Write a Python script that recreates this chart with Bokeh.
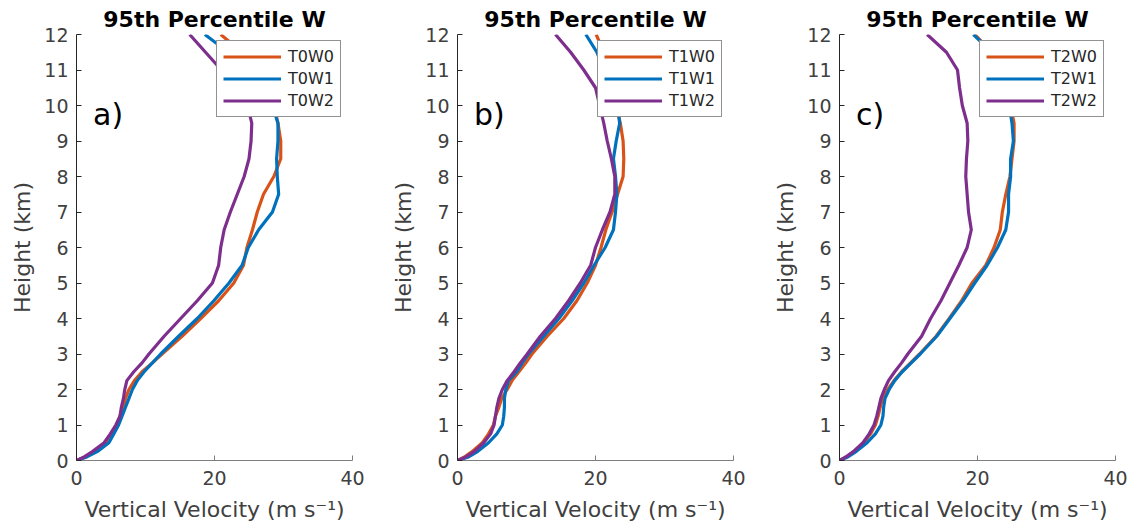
from bokeh.plotting import figure
from bokeh.layouts import row
from bokeh.models import Range1d, FixedTicker, Legend, LegendItem, Label
from bokeh.embed import file_html
from bokeh.resources import INLINE

# Heights (km)
height_km = [0, 0.1, 0.25, 0.5, 0.75, 1, 1.25, 1.5, 1.75, 2, 2.25, 2.5, 2.75, 3, 3.5,
             4, 4.5, 5, 5.5, 6, 6.5, 7, 7.5, 8, 8.5, 9, 9.5, 10, 10.5, 11, 11.5, 12]

# Panel a (95th percentile vertical velocity, m/s)
T0W0 = [0, 1.3, 2.5, 4.2, 5.0, 5.8, 6.3, 6.8, 7.1, 7.6, 8.4, 9.5, 11.0, 12.4, 15.3,
        18.0, 20.6, 22.8, 24.2, 24.7, 25.5, 26.2, 27.1, 28.6, 29.6, 29.6, 29.2, 28.6, 27.5, 26.0, 24.0, 20.9]
T0W1 = [0, 1.5, 3.0, 4.7, 5.4, 6.1, 6.6, 7.1, 7.6, 8.1, 8.8, 9.8, 11.0, 12.2, 14.8,
        17.5, 19.9, 22.1, 24.0, 24.9, 26.4, 28.4, 29.3, 29.1, 29.0, 29.2, 29.2, 28.4, 26.8, 24.5, 22.0, 18.6]
T0W2 = [0, 1.1, 2.3, 4.0, 4.9, 5.7, 6.3, 6.5, 6.8, 7.0, 7.3, 8.3, 9.5, 10.5, 12.7,
        15.1, 17.5, 19.7, 20.6, 20.9, 21.4, 22.3, 23.3, 24.3, 25.0, 25.3, 25.4, 24.8, 23.5, 21.0, 18.7, 16.4]
# Panel b
T1W0 = [0, 1.0, 2.1, 3.6, 4.5, 5.2, 5.5, 6.0, 6.4, 7.2, 7.9, 8.9, 9.9, 10.8, 13.0,
        15.4, 17.3, 18.8, 20.0, 20.8, 21.5, 22.4, 23.2, 24.0, 24.1, 24.0, 23.6, 23.0, 22.5, 22.0, 21.2, 20.1]
T1W1 = [0, 1.6, 2.9, 4.5, 5.7, 6.5, 6.7, 6.8, 6.8, 7.0, 7.4, 8.6, 9.4, 10.3, 12.5,
        14.7, 16.6, 18.3, 19.8, 21.4, 22.6, 22.9, 23.1, 22.9, 22.6, 23.0, 23.5, 23.2, 22.2, 21.2, 20.2, 18.6]
T1W2 = [0, 1.2, 2.4, 3.8, 4.8, 5.3, 5.5, 5.7, 6.0, 6.5, 7.2, 8.2, 9.1, 10.1, 12.0,
        14.2, 16.1, 17.8, 19.3, 20.0, 21.0, 22.1, 22.8, 22.8, 22.3, 21.7, 21.2, 20.6, 20.0, 18.3, 16.4, 14.2]
# Panel c
T2W0 = [0, 1.0, 2.1, 3.5, 4.5, 5.2, 5.6, 5.9, 6.3, 7.0, 7.9, 9.0, 10.3, 11.6, 14.0,
        15.9, 17.7, 19.2, 21.2, 22.4, 23.3, 23.6, 24.1, 24.7, 25.0, 25.3, 25.3, 24.8, 24.0, 23.2, 22.1, 19.6]
T2W1 = [0, 1.2, 2.4, 4.0, 5.2, 6.0, 6.3, 6.4, 6.6, 7.2, 8.0, 9.1, 10.4, 11.7, 14.1,
        16.0, 17.9, 19.6, 21.4, 22.9, 24.1, 24.5, 24.5, 24.8, 24.8, 25.2, 25.0, 24.6, 23.9, 23.1, 22.1, 19.4]
T2W2 = [0, 0.9, 2.0, 3.4, 4.3, 5.0, 5.4, 5.7, 6.0, 6.5, 7.1, 8.0, 9.0, 9.9, 11.9,
        13.2, 14.7, 16.0, 17.3, 18.5, 19.1, 18.7, 18.5, 18.3, 18.4, 18.6, 18.5, 17.8, 17.4, 17.1, 15.5, 12.7]

panels = [
    ("a)", ["T0W0", "T0W1", "T0W2"], [T0W0, T0W1, T0W2]),
    ("b)", ["T1W0", "T1W1", "T1W2"], [T1W0, T1W1, T1W2]),
    ("c)", ["T2W0", "T2W1", "T2W2"], [T2W0, T2W1, T2W2]),
]
colors = ["#D95319", "#0072BD", "#7E2F8E"]
x_ticks = [0, 20, 40]
y_ticks = list(range(0, 13))

FONT = "DejaVu Sans"
widths = [380, 380, 372]
lefts = [76, 77, 79]
rights = [28, 27, 17]

figs = []
for i, (tag, names, series) in enumerate(panels):
    p = figure(width=widths[i], height=529, output_backend="svg", toolbar_location=None,
               x_range=Range1d(0, 40), y_range=Range1d(0, 12),
               min_border_left=lefts[i], min_border_right=rights[i],
               min_border_top=34, min_border_bottom=69,
               title="95th Percentile W")
    p.outline_line_color = None
    p.xgrid.visible = False
    p.ygrid.visible = False
    p.background_fill_color = "white"
    p.border_fill_color = "white"

    p.title.align = "center"
    p.title.text_font = FONT
    p.title.text_font_size = "22px"
    p.title.text_font_style = "bold"
    p.title.text_color = "black"
    p.title.standoff = 5

    for ax in (p.xaxis[0], p.yaxis[0]):
        ax.major_tick_in = 5
        ax.major_tick_out = 0
        ax.minor_tick_line_color = None
        ax.major_label_text_font = FONT
        ax.major_label_text_font_size = "19px"
        ax.major_label_text_color = "#404040"
        ax.axis_label_text_font = FONT
        ax.axis_label_text_font_size = "22px"
        ax.axis_label_text_font_style = "normal"
        ax.axis_label_text_color = "#404040"
    p.xaxis[0].ticker = FixedTicker(ticks=x_ticks)
    p.yaxis[0].ticker = FixedTicker(ticks=y_ticks)
    p.xaxis[0].axis_line_color = "#7f7f7f"
    p.xaxis[0].major_tick_line_color = "#7f7f7f"
    p.yaxis[0].axis_line_color = "#262626"
    p.yaxis[0].major_tick_line_color = "#262626"
    p.xaxis[0].axis_label = "Vertical Velocity (m s\u207b\u00b9)"
    p.yaxis[0].axis_label = "Height (km)"
    p.xaxis[0].major_label_standoff = 10
    p.yaxis[0].major_label_standoff = 8
    p.xaxis[0].axis_label_standoff = 9
    p.yaxis[0].axis_label_standoff = 6

    items = []
    for name, vals, c in zip(names, series, colors):
        r = p.line(vals, height_km, line_color=c, line_width=3.2, line_join="round")
        items.append(LegendItem(label=name, renderers=[r]))

    leg = Legend(items=items, location=(140, 343), margin=0,
                 padding=6, spacing=3, glyph_width=58, glyph_height=17,
                 label_height=17, label_standoff=7,
                 label_text_font=FONT, label_text_font_size="16px",
                 label_text_color="#262626",
                 border_line_color="#262626", border_line_width=1,
                 background_fill_color="white", background_fill_alpha=1.0)
    p.add_layout(leg)

    p.add_layout(Label(x=2.4, y=9.75, text=tag, text_font=FONT, text_font_size="30px",
                       text_color="black", text_baseline="middle", text_align="left"))
    figs.append(p)

layout = row(*figs)
open("out.html", "w").write(file_html(layout, INLINE))
